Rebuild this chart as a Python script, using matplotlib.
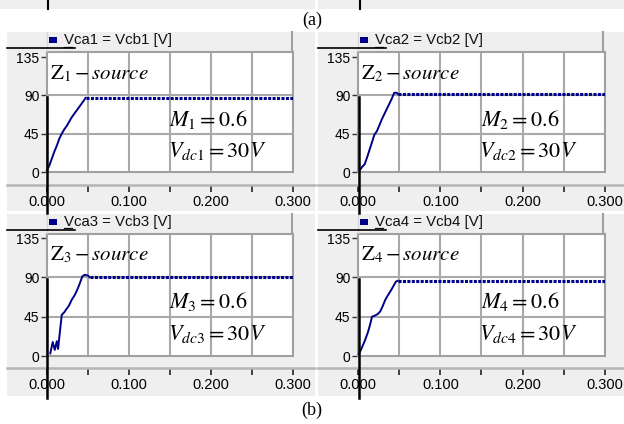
import matplotlib
matplotlib.use("Agg")
import matplotlib.pyplot as plt
from matplotlib.patches import Rectangle
from matplotlib.lines import Line2D

plt.rcParams["mathtext.fontset"] = "stix"
plt.rcParams["font.family"] = ["Liberation Sans", "DejaVu Sans"]

# ---------------- data ----------------
t1 = [0.000, 0.003, 0.006, 0.009, 0.012, 0.015, 0.018, 0.021, 0.024, 0.027, 0.030,
      0.033, 0.036, 0.039, 0.042, 0.045, 0.047, 0.300]
v1 = [2, 8, 16, 24, 31, 39, 45, 50, 54, 59, 64, 68, 72, 76, 80, 84, 87, 87]

t2 = [0.002, 0.005, 0.008, 0.011, 0.014, 0.017, 0.020, 0.023, 0.026, 0.029, 0.032,
      0.035, 0.038, 0.041, 0.044, 0.047, 0.049, 0.300]
v2 = [2, 6, 9, 17, 26, 35, 44, 48, 55, 62, 68, 74, 80, 86, 93, 93, 91, 91]

t3 = [0.004, 0.007, 0.0095, 0.012, 0.0135, 0.016, 0.018, 0.021, 0.024, 0.027, 0.030,
      0.034, 0.037, 0.040, 0.043, 0.046, 0.050, 0.052, 0.300]
v3 = [3, 16, 7, 17, 8, 30, 47, 50, 54, 58, 64, 70, 76, 83, 91, 93, 92, 90, 90]

t4 = [0.001, 0.004, 0.0085, 0.012, 0.015, 0.017, 0.020, 0.024, 0.027, 0.030, 0.033,
      0.036, 0.040, 0.043, 0.046, 0.048, 0.300]
v4 = [2, 8, 18, 27, 37, 45, 46, 48, 51, 57, 64, 69, 75, 80, 85, 86, 86]

series_t = [t1, t2, t3, t4]
series_v = [v1, v2, v3, v4]
legend_labels = ["Vca1 = Vcb1 [V]", "Vca2 = Vcb2 [V]", "Vca3 = Vcb3 [V]", "Vca4 = Vcb4 [V]"]
z_labels = [r"$\mathrm{Z}_1-source$", r"$\mathrm{Z}_2-source$",
            r"$\mathrm{Z}_3-source$", r"$\mathrm{Z}_4-source$"]
m_labels = [r"$M_1=0.6$", r"$M_2=0.6$", r"$M_3=0.6$", r"$M_4=0.6$"]
v_labels = [r"$V_{dc1}=30V$", r"$V_{dc2}=30V$", r"$V_{dc3}=30V$", r"$V_{dc4}=30V$"]
y_ticks = [0, 45, 90, 135]
x_ticks = [0.0, 0.1, 0.2, 0.3]
x_minor = [0.05, 0.15, 0.25]
x_labels = ["0.000", "0.100", "0.200", "0.300"]
grid_x = [0.05, 0.10, 0.15, 0.20, 0.25]
grid_y = [45, 90]

# ---------------- layout (pixels) ----------------
W, H = 624, 424
fig = plt.figure(figsize=(6.24, 4.24), dpi=100)
fig.patch.set_facecolor("white")

def fx(x): return x / W
def fy(y): return 1 - y / H

def rect(x0, y0, x1, y1, z=-5, **kw):
    fig.add_artist(Rectangle((fx(x0), fy(y1)), (x1 - x0) / W, (y1 - y0) / H,
                             transform=fig.transFigure, zorder=z, **kw))

def hline(x0, x1, y, z=5, **kw):
    fig.add_artist(Line2D([fx(x0), fx(x1)], [fy(y), fy(y)], transform=fig.transFigure,
                          zorder=z, **kw))

def vline(x, y0, y1, z=5, **kw):
    fig.add_artist(Line2D([fx(x), fx(x)], [fy(y0), fy(y1)], transform=fig.transFigure,
                          zorder=z, **kw))

BG = "#efefef"
GRID = "#a9a9a9"
NAVY = "#000088"

# top strip (bottom of figure (a))
rect(0, 0, 315, 9, facecolor=BG, edgecolor="none")
rect(318, 0, 624, 9, facecolor=BG, edgecolor="none")
vline(48, 0, 9, color="black", lw=1.5)
vline(360, 0, 9, color="black", lw=1.5)
fig.text(fx(312), fy(20), "(a)", ha="center", va="center",
         family=["Liberation Serif"], fontsize=13)
fig.text(fx(312), fy(410), "(b)", ha="center", va="center",
         family=["Liberation Serif"], fontsize=13)

col_px0 = [7, 318]
col_px1 = [315, 624]
col_ax0 = [47, 358]
col_ax1 = [293, 605]
col_hd1 = [292, 603]
row_py0 = [32, 214]
row_hd1 = [51, 233]
row_ax0 = [52, 234]
row_y0 = [172, 356]
row_y135 = [57, 238]
row_band = [185, 368]
row_py1 = [211, 396]
row_cursor = [97, 279]

for i in range(4):
    r, c = divmod(i, 2)
    px0, px1 = col_px0[c], col_px1[c]
    ax0, ax1 = col_ax0[c], col_ax1[c]
    py0, py1 = row_py0[r], row_py1[r]

    # panel background
    rect(px0, py0, px1, py1, facecolor=BG, edgecolor="none")
    # header
    vline(ax0, py0, row_hd1[r], color="#d6d6d6", lw=1.0, z=3)
    vline(col_hd1[c], py0, row_hd1[r], color="#a0a0a0", lw=1.5, z=3)
    hc = py0 + 8
    rect(ax0 + 2, hc - 3, ax0 + 10, hc + 3, z=3, facecolor=NAVY, edgecolor="none")
    fig.text(fx(ax0 + 17), fy(hc), legend_labels[i], ha="left", va="center",
             fontsize=10.8, color="#111111")
    hline(ax0 + 17, ax0 + 25, hc + 6.5, color="#111111", lw=0.9)
    # cursor artefact
    hline(px0, px0 + 68, row_hd1[r] - 3, color="black", lw=1.2)

    # plot axes
    ytop = 135 * (row_y0[r] - row_ax0[r]) / (row_y0[r] - row_y135[r])
    ax = fig.add_axes([fx(ax0), fy(row_y0[r]), (ax1 - ax0) / W, (row_y0[r] - row_ax0[r]) / H])
    ax.set_zorder(1)
    ax.set_xlim(0, 0.3)
    ax.set_ylim(0, ytop)
    ax.set_facecolor("white")
    for s in ax.spines.values():
        s.set_color("#a0a0a0")
        s.set_linewidth(1.5)
    for gx in grid_x:
        ax.axvline(gx, color=GRID, lw=1.5, zorder=1)
    for gy in grid_y:
        ax.axhline(gy, color=GRID, lw=1.5, zorder=1)
    ax.set_xticks([])
    ax.set_yticks(y_ticks)
    ax.set_yticklabels([str(v) for v in y_ticks], fontsize=10)
    ax.tick_params(axis="y", direction="out", length=4, width=1.0, color="#333333", pad=1.5)

    tt, vv = series_t[i], series_v[i]
    ax.plot(tt[:-1], vv[:-1], color=NAVY, lw=1.4, zorder=3, clip_on=False)
    ax.plot(tt[-2:], vv[-2:], color=NAVY, lw=2.2, ls=(0, (1.0, 0.45)), zorder=3)

    ax.text(0.004, 116, z_labels[i], fontsize=15, ha="left", va="center", zorder=4)
    ax.text(0.149, 62, m_labels[i], fontsize=16, ha="left", va="center", zorder=4)
    ax.text(0.147, 25, v_labels[i], fontsize=16, ha="left", va="center", zorder=4)

    # tick band
    hline(px0, px1, row_band[r], color="#b5b5b5", lw=1.8, z=3)
    bx = fig.add_axes([fx(ax0), fy(row_band[r] + 8), (ax1 - ax0) / W, 8 / H])
    bx.set_zorder(1)
    bx.set_xlim(0, 0.3)
    bx.patch.set_alpha(0)
    for s in bx.spines.values():
        s.set_visible(False)
    bx.set_yticks([])
    bx.set_xticks(x_ticks)
    bx.set_xticks(x_minor, minor=True)
    bx.set_xticklabels(x_labels, fontsize=10.5)
    bx.tick_params(axis="x", which="both", direction="in", top=True, bottom=False,
                   labeltop=False, labelbottom=True, length=5, width=1.2,
                   color="#222222", pad=1.5)

    # vertical cursor line at t=0
    vline(ax0 + 0.5, row_cursor[r], py1 + 2, color="black", lw=1.8)

fig.savefig("out.png", dpi=100, facecolor="white")
